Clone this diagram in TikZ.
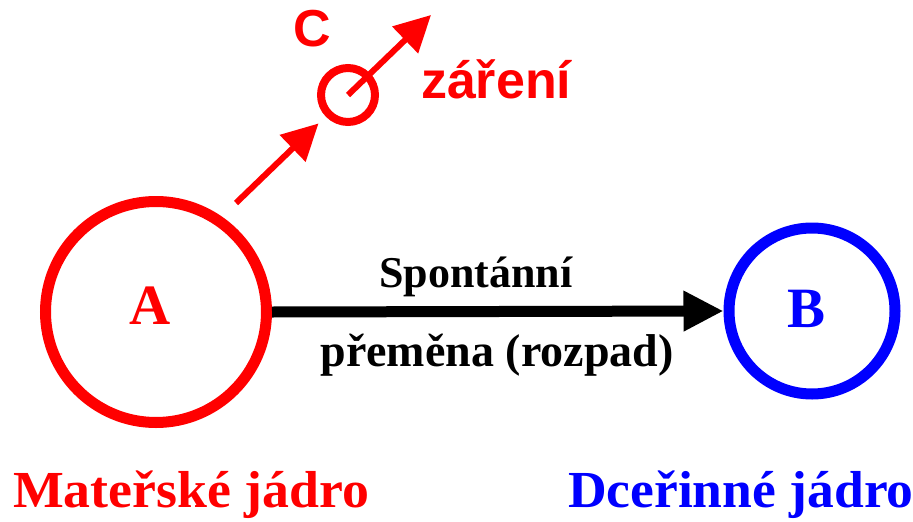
\documentclass[tikz,border=0pt]{standalone}
\usepackage{fontspec}
\setmainfont{Liberation Serif}
\newfontfamily\sansbold{Liberation Sans}[BoldFont={* Bold}]
\usetikzlibrary{arrows.meta,calc}
\definecolor{nred}{RGB}{255,0,0}
\definecolor{nblue}{RGB}{0,0,255}
\tikzset{
  ring/.style={circle, draw, inner sep=0pt},
  lbl/.style={inner sep=0pt, outer sep=0pt},
  bigarrow/.style={line width=11pt, -{Triangle[length=40pt,width=38pt]}},
  redarrow/.style={nred, line width=6pt, -{Triangle[length=36pt,width=36pt]}},
}
\begin{document}
\begin{tikzpicture}[x=1pt,y=-1pt]
\useasboundingbox[fill=white] (0,0) rectangle (913,522);
% nuclei
\node[ring, nred, line width=11pt, minimum size=221pt] (A) at (156,312) {};
\node[ring, nblue, line width=11pt, minimum size=166pt] (B) at (812,311) {};
\node[ring, nred, line width=8pt, minimum size=54pt] (Cc) at (348,95) {};
% letters
\node[lbl, nred, anchor=base] (Alab) at (150,324) {\fontsize{57}{60}\selectfont\bfseries A};
\node[lbl, nblue, anchor=base] (Blab) at (806,327) {\fontsize{57}{60}\selectfont\bfseries B};
% main transformation arrow
\draw[bigarrow] (A.east) -- (B.west);
\node[lbl, anchor=base] (t1) at (476,287) {\fontsize{44}{50}\selectfont\bfseries Spontánní};
\node[lbl, anchor=base] (t2) at (497,366) {\fontsize{46}{50}\selectfont\bfseries přeměna (rozpad)};
% radiation
\coordinate (r1) at (236,203);
\coordinate (r2) at (431,15);
\draw[redarrow] (r1) -- ($(Cc.center)!41pt!(r1)$);
\draw[redarrow] (Cc.center) -- (r2);
\node[lbl, nred, anchor=base] (Clab) at (312,46) {\sansbold\fontsize{52}{56}\selectfont\bfseries C};
\node[lbl, nred, anchor=base west] (zar) at (421,98) {\sansbold\fontsize{52}{56}\selectfont\bfseries záření};
% captions
\node[lbl, nred, anchor=base west] (mat) at (13,507) {\scalebox{1.035}[1]{\fontsize{52}{56}\selectfont\bfseries Mateřské jádro}};
\node[lbl, nblue, anchor=base west] (dce) at (568,507) {\scalebox{1.03}[1]{\fontsize{52}{56}\selectfont\bfseries Dceřinné jádro}};
\end{tikzpicture}
\end{document}
